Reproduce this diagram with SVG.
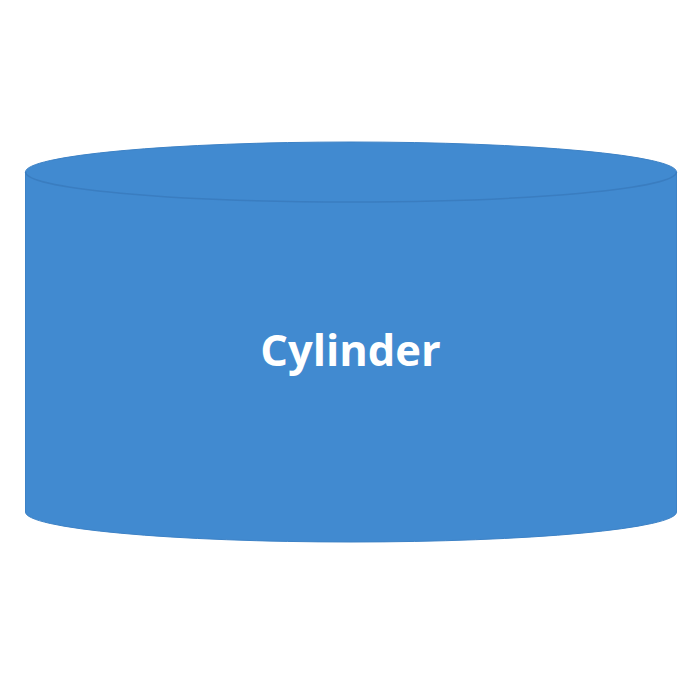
<svg xmlns="http://www.w3.org/2000/svg" width="700" height="700" viewBox="0 0 700 700">
<style>
.body{fill:#418AD0;stroke:#3D82C6;stroke-width:1}
.rim{fill:none;stroke:#3A7DC0;stroke-width:1.5}
.label{font-family:"Open Sans","Noto Sans",sans-serif;font-weight:bold;font-size:43.5px;fill:#FFFFFF;text-anchor:middle}
</style>
<rect width="700" height="700" fill="#FFFFFF"/>
<g id="cylinder">
<path class="body" d="M25.5,172 A325.5,30 0 0 1 676.5,172 L676.5,512 A325.5,30 0 0 1 25.5,512 Z"/>
<path class="rim" d="M25.5,172 A325.5,30 0 0 0 676.5,172"/>
<text class="label" x="350.5" y="366">Cylinder</text>
</g>
</svg>
